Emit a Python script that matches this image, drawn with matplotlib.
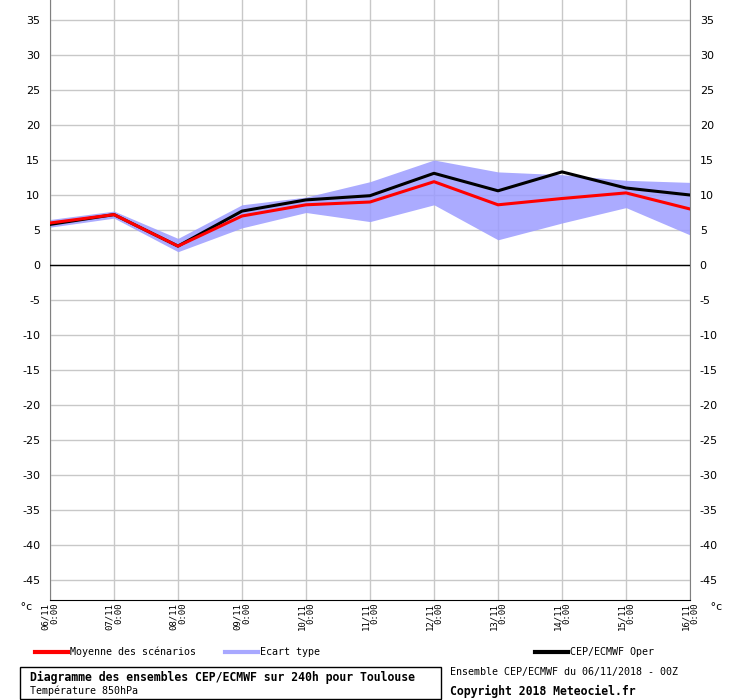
import matplotlib
matplotlib.use("Agg")
import matplotlib.pyplot as plt

plt.rcParams["axes.unicode_minus"] = False

# dates (x) and 850 hPa temperatures
dates = ["06/11", "07/11", "08/11", "09/11", "10/11", "11/11",
         "12/11", "13/11", "14/11", "15/11", "16/11"]
oper = [5.8, 7.2, 2.7, 7.7, 9.3, 9.9, 13.1, 10.6, 13.3, 11.0, 10.0]
moyenne = [6.0, 7.2, 2.7, 7.0, 8.6, 9.0, 11.9, 8.6, 9.5, 10.3, 8.0]
ecart_haut = [6.5, 7.7, 3.8, 8.6, 9.7, 11.9, 15.0, 13.3, 12.9, 12.1, 11.8]
ecart_bas = [5.4, 6.7, 1.9, 5.3, 7.5, 6.2, 8.6, 3.6, 6.0, 8.2, 4.3]
yticks = list(range(-45, 40, 5))

x = list(range(len(dates)))
mono = "DejaVu Sans Mono"

fig = plt.figure(figsize=(7.4, 7.0), dpi=100)
ax = fig.add_axes([50 / 740, 100 / 700, 640 / 740, 600 / 700])

ax.fill_between(x, ecart_bas, ecart_haut, color="#9c9cff", alpha=0.85,
                lw=0, zorder=2)
ax.plot(x, moyenne, color="red", lw=2.2, zorder=4)
ax.plot(x, oper, color="black", lw=2.2, zorder=3)
ax.axhline(0, color="black", lw=1, zorder=3)

ax.set_xlim(0, len(dates) - 1)
ax.set_ylim(-600 / 7 + 265 / 7, 265 / 7)
ax.set_yticks(yticks)
ax.set_xticks(x)
ax.grid(True, color="#c8c8c8", lw=1, zorder=1)
ax.set_axisbelow(True)

ax.tick_params(axis="y", which="both", length=0, labelsize=8,
               left=False, right=False, labelleft=True, labelright=True,
               pad=7)
ax.tick_params(axis="x", length=0, pad=2)
ax.set_xticklabels([d + "\n0:00" for d in dates], rotation=90,
                   fontsize=6.5, family=mono, linespacing=1.0, va="top",
                   ha="center", multialignment="right")

ax.spines["top"].set_visible(False)
ax.spines["left"].set_color("#808080")
ax.spines["right"].set_color("#808080")
ax.spines["bottom"].set_color("black")

fig.text(26 / 740, 1 - 607 / 700, "°c", fontsize=8, family=mono,
         ha="center", va="center")
fig.text(716 / 740, 1 - 607 / 700, "°c", fontsize=8, family=mono,
         ha="center", va="center")

# legend row
leg = [(35, "red", "Moyenne des scénarios"),
       (225, "#a8a8ff", "Ecart type"),
       (535, "black", "CEP/ECMWF Oper")]
ly = 1 - 652 / 700
for x0, c, lab in leg:
    fig.add_artist(plt.Line2D([x0 / 740, (x0 + 33) / 740], [ly, ly],
                              color=c, lw=3))
    fig.text((x0 + 35) / 740, ly, lab, fontsize=7.2, family=mono,
             va="center", ha="left")

# title box
box = plt.Rectangle((20 / 740, 1 - 699 / 700), 421 / 740, 32 / 700,
                    transform=fig.transFigure, fill=False, ec="black", lw=1)
fig.add_artist(box)
fig.text(30 / 740, 1 - 677 / 700,
         "Diagramme des ensembles CEP/ECMWF sur 240h pour Toulouse",
         fontsize=8.3, family=mono, weight="bold", va="center")
fig.text(30 / 740, 1 - 691 / 700, "Température 850hPa", fontsize=7.2,
         family=mono, va="center")
fig.text(450 / 740, 1 - 672 / 700,
         "Ensemble CEP/ECMWF du 06/11/2018 - 00Z", fontsize=7.2,
         family=mono, va="center")
fig.text(450 / 740, 1 - 691 / 700, "Copyright 2018 Meteociel.fr",
         fontsize=8.3, family=mono, weight="bold", va="center")

fig.savefig("out.png", dpi=100)
